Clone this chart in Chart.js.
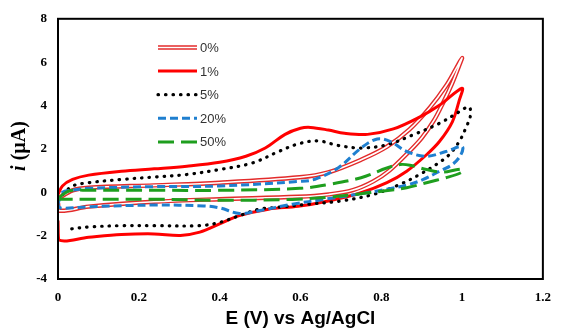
<!DOCTYPE html>
<html>
<head>
<meta charset="utf-8">
<title>CV</title>
<script src="https://cdn.jsdelivr.net/npm/chart.js@4.4.1/dist/chart.umd.min.js"></script>
<style>
  html, body { margin: 0; padding: 0; background: #fff; }
</style>
</head>
<body>
<canvas id="cvChart" width="562" height="336"></canvas>
<script>
// series names (legend order)
const labels = ['0%', '1%', '5%', '20%', '50%'];

// axis ticks
const xTicks = [0, 0.2, 0.4, 0.6, 0.8, 1, 1.2];
const yTicks = [-4, -2, 0, 2, 4, 6, 8];

// 0% - potential (V) / current (uA), read around the loop
const e0 = [0, 0.036, 0.076, 0.238, 0.4, 0.598, 0.669, 0.75, 0.814, 0.87, 0.92, 0.96, 0.985, 1.0,
  0.99, 0.975, 0.955, 0.93, 0.9, 0.865, 0.82, 0.78, 0.73, 0.67, 0.594, 0.4, 0.238, 0.076, 0.003, 0];
const i0 = [-0.3, 0.09, 0.21, 0.32, 0.44, 0.69, 0.92, 1.5, 2.1, 2.9, 3.9, 4.9, 5.7, 6.2,
  5.7, 5.0, 4.2, 3.3, 2.5, 1.8, 1.0, 0.5, 0.1, -0.1, -0.21, -0.32, -0.44, -0.66, -0.85, -0.5];

// 1%
const e1 = [0, 0.011, 0.036, 0.076, 0.157, 0.238, 0.319, 0.4, 0.465, 0.513, 0.562, 0.6, 0.625, 0.669,
  0.709, 0.766, 0.83, 0.896, 0.944, 1.0, 0.993, 0.976, 0.944, 0.912, 0.863, 0.814, 0.75, 0.669, 0.594,
  0.521, 0.449, 0.4, 0.351, 0.303, 0.238, 0.157, 0.076, 0.002, 0];
const i1 = [-0.1, 0.29, 0.59, 0.79, 0.97, 1.08, 1.2, 1.38, 1.66, 2.04, 2.67, 2.95, 2.99, 2.87,
  2.72, 2.67, 2.92, 3.48, 4.01, 4.8, 4.24, 3.25, 2.34, 1.73, 0.97, 0.44, -0.02, -0.4, -0.65,
  -0.78, -1.08, -1.46, -1.84, -1.99, -1.92, -1.95, -2.07, -2.2, -1.3];

// 5%
const e5 = [0.012, 0.036, 0.076, 0.157, 0.238, 0.319, 0.4, 0.481, 0.546, 0.596, 0.644, 0.693, 0.75,
  0.814, 0.879, 0.944, 0.993, 1.017, 1.021, 1.009, 0.993, 0.968, 0.936, 0.895, 0.847, 0.782, 0.701,
  0.62, 0.539, 0.497, 0.449, 0.4, 0.351, 0.238, 0.157, 0.076, 0.032];
const i5 = [-0.1, 0.29, 0.44, 0.59, 0.7, 0.82, 1.05, 1.35, 1.88, 2.24, 2.37, 2.16, 2.04,
  2.19, 2.65, 3.18, 3.71, 3.94, 3.56, 2.95, 2.34, 1.73, 1.28, 0.82, 0.37, -0.09, -0.4,
  -0.55, -0.7, -0.78, -1.08, -1.39, -1.54, -1.54, -1.54, -1.6, -1.69];

// 20%
const e20 = [0, 0.011, 0.036, 0.076, 0.238, 0.4, 0.598, 0.636, 0.693, 0.75, 0.79, 0.823, 0.863, 0.912,
  0.96, 1.0, 0.997, 0.976, 0.944, 0.904, 0.863, 0.814, 0.742, 0.661, 0.58, 0.497, 0.449, 0.4, 0.36,
  0.238, 0.076, 0.007, 0];
const i20 = [-0.55, 0.0, 0.1, 0.18, 0.26, 0.29, 0.5, 0.6, 1.12, 2.04, 2.46, 2.34, 1.88, 1.66,
  1.88, 2.11, 1.73, 1.28, 0.97, 0.59, 0.33, 0.14, -0.09, -0.32, -0.55, -0.85, -0.98, -0.72, -0.63,
  -0.59, -0.67, -0.73, -0.6];

// 50%
const e50 = [0.003, 0.027, 0.076, 0.238, 0.4, 0.598, 0.669, 0.75, 0.814, 0.847, 0.871, 0.912, 0.952,
  0.989, 1.002, 0.997, 0.96, 0.912, 0.863, 0.806, 0.742, 0.661, 0.58, 0.4, 0.238, 0.076, 0.003];
const i50 = [-0.24, 0.06, 0.09, 0.09, 0.09, 0.18, 0.36, 0.67, 1.12, 1.28, 1.25, 1.05, 0.93,
  1.05, 1.05, 0.9, 0.67, 0.44, 0.21, 0.06, -0.09, -0.24, -0.33, -0.37, -0.32, -0.32, -0.32];

// line styles, same order as labels
const estilos = [
  { color: '#e32b2b', width: 4.4, dash: [], inner: '#ffffff' },
  { color: '#ff0000', width: 3, dash: [] },
  { color: '#000000', width: 3.2, dash: [0.5, 7], cap: 'round' },
  { color: '#1f7fcf', width: 3, dash: [8, 4] },
  { color: '#1e9e1e', width: 3, dash: [16, 7] },
];

const series = [[e0, i0], [e1, i1], [e5, i5], [e20, i20], [e50, i50]];

function puntos(e, i) {
  return e.map((x, k) => ({ x: x, y: i[k] }));
}

// last series drawn on top (like the spreadsheet does)
const datasets = [];
series.forEach(([e, i], k) => {
  const st = estilos[k];
  const base = {
    label: labels[k],
    data: puntos(e, i),
    showLine: true,
    pointRadius: 0,
    tension: 0.35,
    fill: false,
    borderJoinStyle: 'round',
  };
  datasets.push(Object.assign({}, base, {
    borderColor: st.color,
    borderWidth: st.width,
    borderDash: st.dash,
    borderCapStyle: st.cap || 'butt',
    order: 2 * (labels.length - k) + 1,
  }));
  if (st.inner) {
    // white core for the double line
    datasets.push(Object.assign({}, base, {
      label: labels[k] + ' inner',
      borderColor: st.inner,
      borderWidth: 1.6,
      order: 2 * (labels.length - k),
    }));
  }
});

const marco = {
  id: 'marco',
  afterDatasetsDraw(chart) {
    const { ctx, chartArea: a } = chart;
    ctx.save();
    ctx.strokeStyle = '#000';
    ctx.lineWidth = 2;
    ctx.strokeRect(a.left, a.top, a.right - a.left, a.bottom - a.top);
    ctx.restore();
  }
};

const textos = {
  id: 'textos',
  afterDraw(chart) {
    const ctx = chart.ctx;
    const a = chart.chartArea;
    ctx.save();

    // x title
    ctx.fillStyle = '#000';
    ctx.font = 'bold 19px "Liberation Sans"';
    ctx.textAlign = 'center';
    ctx.textBaseline = 'alphabetic';
    ctx.fillText('E (V) vs Ag/AgCl', (a.left + a.right) / 2, 324);

    // y title, italic i
    ctx.translate(20, 146);
    ctx.rotate(-Math.PI / 2);
    ctx.textAlign = 'left';
    ctx.textBaseline = 'middle';
    const f1 = 'italic bold 20px "Liberation Serif"';
    const f2 = 'bold 20px "Liberation Serif"';
    ctx.font = f1;
    const w1 = ctx.measureText('i').width;
    ctx.font = f2;
    const w2 = ctx.measureText(' (µA)').width;
    const x0 = -(w1 + w2) / 2;
    ctx.font = f1;
    ctx.fillText('i', x0, 0);
    ctx.font = f2;
    ctx.fillText(' (µA)', x0 + w1, 0);
    ctx.restore();

    // legend
    ctx.save();
    labels.forEach((txt, k) => {
      const st = estilos[k];
      const y = 47.5 + k * 23.6;
      ctx.beginPath();
      ctx.moveTo(158, y);
      ctx.lineTo(197, y);
      ctx.strokeStyle = st.color;
      ctx.lineWidth = st.width;
      ctx.lineCap = st.cap || 'butt';
      ctx.setLineDash(st.dash);
      ctx.stroke();
      if (st.inner) {
        ctx.strokeStyle = st.inner;
        ctx.lineWidth = 1.6;
        ctx.stroke();
      }
      ctx.setLineDash([]);
      ctx.fillStyle = '#333';
      ctx.font = '13px "Liberation Sans"';
      ctx.textAlign = 'left';
      ctx.textBaseline = 'middle';
      ctx.fillText(txt, 200, y + 1);
    });
    ctx.restore();
  }
};

const tickFont = { family: 'Liberation Serif', weight: 'bold', size: 13 };

new Chart(document.getElementById('cvChart'), {
  type: 'scatter',
  data: { datasets: datasets },
  options: {
    responsive: false,
    animation: false,
    layout: { padding: { left: 0, right: 10, top: 16, bottom: 0 } },
    plugins: {
      legend: { display: false },
      tooltip: { enabled: false },
    },
    scales: {
      x: {
        type: 'linear',
        min: 0,
        max: 1.2,
        grid: { display: false, drawTicks: false },
        border: { display: false },
        ticks: {
          color: '#000',
          font: tickFont,
          padding: 11,
          maxRotation: 0,
          callback: v => String(+v.toFixed(1)),
        },
        afterBuildTicks: s => { s.ticks = xTicks.map(v => ({ value: v })); },
        afterFit: s => { s.height = 57; },
      },
      y: {
        type: 'linear',
        min: -4,
        max: 8,
        grid: { display: false, drawTicks: false },
        border: { display: false },
        ticks: {
          color: '#000',
          font: tickFont,
          padding: 11,
        },
        afterBuildTicks: s => { s.ticks = yTicks.map(v => ({ value: v })); },
        afterFit: s => { s.width = 58; },
      },
    },
  },
  plugins: [marco, textos],
});
</script>
</body>
</html>
